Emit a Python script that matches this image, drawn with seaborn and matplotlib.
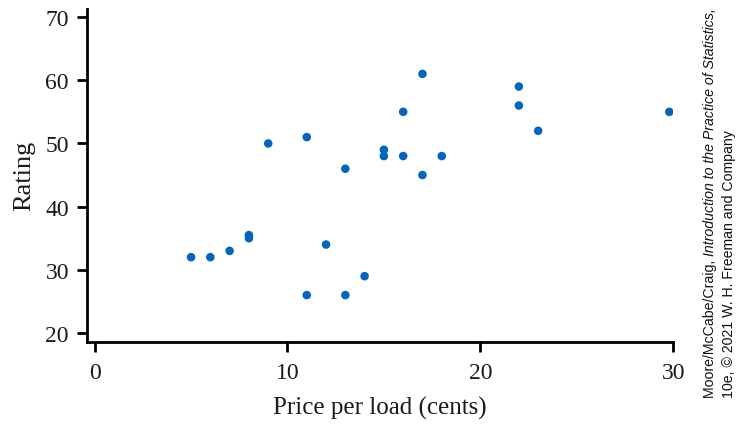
import matplotlib
matplotlib.use("Agg")
import matplotlib.pyplot as plt
import seaborn as sns
import pandas as pd

price = [5, 6, 7, 8, 8, 9, 11, 11, 12, 13, 13, 14, 15, 15, 16, 16, 17, 17, 18, 22, 22, 23, 29.8]
rating = [32, 32, 33, 35.5, 35, 50, 51, 26, 34, 46, 26, 29, 49, 48, 55, 48, 61, 45, 48, 59, 56, 52, 55]
xticks = [0, 10, 20, 30]
yticks = [20, 30, 40, 50, 60, 70]
credit_a = "Moore/McCabe/Craig, "
credit_b = "Introduction to the Practice of Statistics,"
credit_c = "10e, © 2021 W. H. Freeman and Company"

df = pd.DataFrame({"price": price, "rating": rating})

sns.set_style("ticks")
plt.rcParams["font.family"] = ["Liberation Serif", "DejaVu Serif"]

fig = plt.figure(figsize=(7.43, 4.27), dpi=100)
ax = fig.add_axes([0.117, 0.197, 0.789, 0.780])
sns.scatterplot(data=df, x="price", y="rating", ax=ax, color="#0565b8",
                s=38, edgecolor="none", linewidth=0)
ax.set_xlim(-0.4, 30)
ax.set_ylim(18.6, 71.3)
ax.set_xticks(xticks)
ax.set_yticks(yticks)
ax.tick_params(labelsize=17, width=2, length=7.5, color="black", labelcolor="#1a1a1a")
ax.tick_params(axis="x", pad=7)
ax.tick_params(axis="y", pad=5.5)
for s in ["top", "right"]:
    ax.spines[s].set_visible(False)
for s in ["left", "bottom"]:
    ax.spines[s].set_linewidth(2)
    ax.spines[s].set_color("black")
ax.set_xlabel("Price per load (cents)", fontsize=18, color="#1a1a1a", labelpad=9)
ax.set_ylabel("Rating", fontsize=19, color="#1a1a1a", labelpad=7)

# credit text, rotated, built from pieces so part of it can be italic
sans = ["Liberation Sans", "DejaVu Sans"]
renderer = fig.canvas.get_renderer()
W, H = fig.bbox.width, fig.bbox.height
y0_px = 427 - 398
target_len = 390.0

def place(fs):
    y = y0_px
    t1 = fig.text(710 / W, y / H, credit_a, rotation=90, ha="center", va="bottom",
                  fontsize=fs, family=sans, color="#111111")
    h1 = t1.get_window_extent(renderer).height
    t2 = fig.text(710 / W, (y + h1) / H, credit_b, rotation=90, ha="center", va="bottom",
                  fontsize=fs, family=sans, style="italic", color="#111111")
    h2 = t2.get_window_extent(renderer).height
    t3 = fig.text(729 / W, y / H, credit_c, rotation=90, ha="center", va="bottom",
                  fontsize=fs, family=sans, color="#111111")
    return [t1, t2, t3], h1 + h2

arts, total = place(10)
for a in arts:
    a.remove()
fs = 10 * target_len / total
place(fs)

fig.savefig("out.png", dpi=100)
